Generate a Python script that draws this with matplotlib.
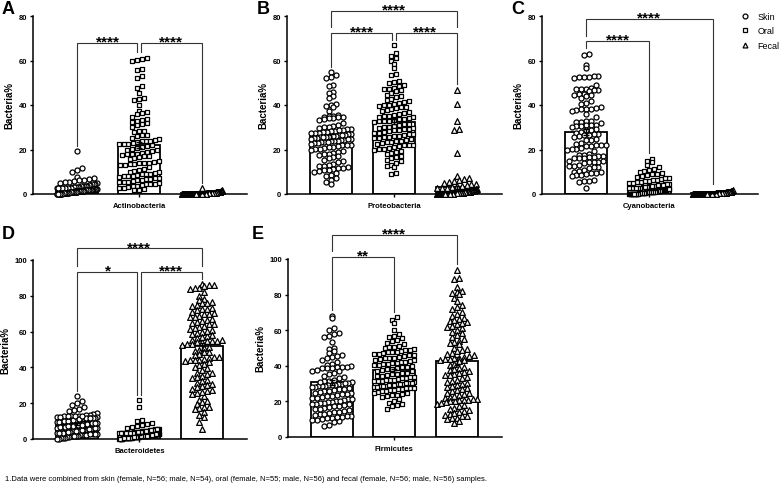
import numpy as np
import matplotlib
matplotlib.use("Agg")
from matplotlib import pyplot as plt
from matplotlib.lines import Line2D

plt.rcParams["font.family"] = ["Liberation Sans", "DejaVu Sans"]

groups = ["Skin", "Oral", "Fecal"]
phyla = ["Actinobacteria", "Proteobacteria", "Cyanobacteria", "Bacteroidetes", "Firmicutes"]
panel_letters = ["A", "B", "C", "D", "E"]
y_max = [80, 80, 80, 100, 100]

# bar heights (group means): Skin, Oral, Fecal
actino_means = [2.6, 22.0, 0.4]
proteo_means = [25.9, 32.5, 3.0]
cyano_means = [27.8, 2.1, 0.5]
bactero_means = [8.3, 2.4, 51.7]
firmi_means = [30.8, 37.4, 42.6]

# individual samples (%), read approximately off the dot clouds
actino_skin = [19.3, 11.9, 10.9, 9.9, 7.6, 7.1, 6.8, 6.5, 6.2, 5.9,
               5.6, 5.3, 5.1, 4.9, 4.7, 4.5, 4.3, 4.1, 3.9, 3.8,
               3.7, 3.6, 3.5, 3.4, 3.3, 3.2, 3.1, 3.0, 3.0, 2.9,
               2.9, 2.8, 2.8, 2.7, 2.7, 2.6, 2.6, 2.5, 2.5, 2.4,
               2.4, 2.3, 2.3, 2.2, 2.2, 2.1, 2.1, 2.0, 2.0, 1.9,
               1.9, 1.9, 1.8, 1.8, 1.8, 1.7, 1.7, 1.7, 1.6, 1.6,
               1.6, 1.5, 1.5, 1.5, 1.4, 1.4, 1.4, 1.3, 1.3, 1.3,
               1.2, 1.2, 1.2, 1.1, 1.1, 1.1, 1.0, 1.0, 1.0, 0.9,
               0.9, 0.9, 0.8, 0.8, 0.8, 0.7, 0.7, 0.7, 0.6, 0.6,
               0.6, 0.5, 0.5, 0.5, 0.4, 0.4, 0.4, 0.3, 0.3, 0.3,
               0.2, 0.2, 0.2, 0.1, 0.1, 0.1, 0.1, 0.0, 0.0, 0.0]
actino_oral = [61.2, 60.6, 60.1, 59.9, 56.2, 55.8, 53.0, 52.2, 48.6, 47.6,
               45.2, 43.1, 42.7, 42.3, 40.1, 37.3, 36.9, 36.5, 36.1, 34.7,
               33.5, 33.1, 32.7, 32.3, 31.9, 31.5, 31.1, 30.2, 28.5, 28.1,
               27.7, 26.7, 26.3, 25.9, 25.1, 24.5, 24.2, 23.9, 23.6, 23.2,
               22.9, 22.6, 22.3, 22.0, 21.6, 21.2, 20.8, 20.4, 20.0, 19.6,
               19.2, 18.8, 18.5, 18.2, 17.9, 17.6, 17.3, 17.0, 16.6, 16.2,
               15.8, 14.7, 14.3, 14.0, 13.8, 13.6, 13.4, 13.2, 12.9, 12.1,
               11.4, 10.8, 10.4, 10.0, 9.7, 9.4, 9.1, 8.8, 8.5, 8.2,
               7.9, 7.6, 7.3, 7.0, 6.7, 6.4, 6.1, 5.8, 5.5, 5.2,
               4.9, 4.6, 4.3, 4.0, 3.7, 3.4, 3.1, 2.8, 2.5, 2.2,
               1.9, 1.6, 9.0, 8.0, 6.9, 5.6, 4.4, 13.9, 17.8, 22.5, 24.0]
actino_fecal = [2.6, 1.7, 1.5, 1.3, 1.2, 1.1, 1.0, 1.0, 0.9, 0.9,
                0.9, 0.8, 0.8, 0.8, 0.7, 0.7, 0.7, 0.7, 0.6, 0.6,
                0.6, 0.6, 0.6, 0.5, 0.5, 0.5, 0.5, 0.5, 0.5, 0.4,
                0.4, 0.4, 0.4, 0.4, 0.4, 0.4, 0.3, 0.3, 0.3, 0.3,
                0.3, 0.3, 0.3, 0.3, 0.3, 0.2, 0.2, 0.2, 0.2, 0.2,
                0.2, 0.2, 0.2, 0.2, 0.2, 0.2, 0.1, 0.1, 0.1, 0.1,
                0.1, 0.1, 0.1, 0.1, 0.1, 0.1, 0.1, 0.1, 0.1, 0.1,
                0.1, 0.1, 0.0, 0.0, 0.0, 0.0, 0.0, 0.0, 0.0, 0.0,
                0.0, 0.0, 0.0, 0.0, 0.0, 0.0, 0.0, 0.0, 0.0, 0.0,
                0.0, 0.0, 0.0, 0.0, 0.0, 0.0, 0.0, 0.0, 0.0, 0.0,
                0.0, 0.0, 0.0, 0.0, 0.0, 0.0, 0.0, 0.0, 0.0, 0.0,
                0.0, 0.0]

proteo_skin = [54.8, 53.6, 52.7, 52.1, 49.0, 48.4, 46.0, 45.4, 44.0, 43.2,
               40.6, 40.1, 39.6, 39.1, 37.2, 35.4, 35.2, 35.0, 34.8, 34.6,
               34.4, 34.2, 34.0, 33.6, 33.2, 32.0, 31.2, 30.6, 30.3, 30.0,
               29.7, 29.4, 29.1, 28.8, 28.5, 28.2, 28.0, 27.8, 27.6, 27.4,
               27.2, 27.0, 26.8, 26.6, 26.4, 26.2, 26.0, 25.8, 25.6, 25.4,
               25.2, 25.0, 24.8, 24.6, 24.4, 24.2, 24.0, 23.8, 23.6, 23.4,
               23.2, 23.0, 22.8, 22.5, 22.2, 21.9, 21.6, 21.3, 21.0, 20.7,
               20.4, 20.1, 19.8, 19.5, 19.0, 18.6, 18.2, 17.8, 17.4, 17.0,
               16.5, 16.0, 15.4, 14.8, 14.2, 13.6, 13.2, 12.8, 12.4, 12.1,
               11.8, 11.5, 11.2, 10.9, 10.6, 10.3, 10.0, 9.4, 8.6, 8.0,
               7.2, 6.4, 5.5, 4.4, 26.5, 25.5, 24.5, 23.5, 28.6, 22.0]
proteo_oral = [66.8, 63.2, 62.0, 61.2, 60.0, 58.6, 56.6, 54.0, 53.4, 51.0,
               50.2, 49.8, 49.2, 48.4, 47.8, 47.4, 47.0, 46.6, 46.2, 45.2,
               44.2, 43.4, 42.2, 41.6, 41.2, 40.8, 40.4, 40.0, 39.6, 39.2,
               38.8, 38.2, 37.6, 37.0, 36.4, 35.8, 35.4, 35.0, 34.6, 34.2,
               33.8, 33.4, 33.0, 32.6, 32.2, 31.6, 31.0, 30.6, 30.2, 29.8,
               29.4, 29.0, 28.6, 28.2, 27.8, 27.4, 27.0, 26.6, 26.2, 25.8,
               25.4, 25.0, 24.6, 24.2, 23.8, 23.4, 23.0, 22.6, 22.2, 21.8,
               21.4, 21.0, 20.6, 20.2, 19.8, 19.4, 19.0, 18.4, 17.8, 17.2,
               16.6, 16.0, 15.4, 14.8, 14.0, 13.2, 12.4, 12.0, 9.6, 9.2,
               35.2, 34.8, 32.8, 31.4, 30.0, 28.8, 27.2, 26.0, 25.2, 24.0,
               23.2, 22.0, 40.2, 39.0, 37.2, 42.6, 44.6, 26.8, 29.6, 33.6, 20.4]
proteo_fecal = [46.8, 40.6, 32.6, 29.4, 28.8, 18.4, 8.2, 7.4, 6.8, 6.2,
                5.8, 5.4, 5.0, 4.6, 4.3, 4.0, 3.7, 3.4, 3.1, 2.9,
                2.7, 2.5, 2.3, 2.1, 2.0, 1.9, 1.8, 1.7, 1.6, 1.5,
                1.5, 1.4, 1.4, 1.3, 1.3, 1.2, 1.2, 1.1, 1.1, 1.0,
                1.0, 1.0, 0.9, 0.9, 0.9, 0.8, 0.8, 0.8, 0.7, 0.7,
                0.7, 0.7, 0.6, 0.6, 0.6, 0.6, 0.5, 0.5, 0.5, 0.5,
                0.5, 0.4, 0.4, 0.4, 0.4, 0.4, 0.4, 0.3, 0.3, 0.3,
                0.3, 0.3, 0.3, 0.3, 0.2, 0.2, 0.2, 0.2, 0.2, 0.2,
                0.2, 0.2, 0.1, 0.1, 0.1, 0.1, 0.1, 0.1, 0.1, 0.1,
                0.1, 0.1, 0.0, 0.0, 0.0, 0.0, 0.0, 0.0, 0.0, 0.0,
                0.0, 0.0, 0.0, 0.0, 0.0, 0.0, 0.0, 0.0, 0.0, 0.0,
                0.0, 0.0]

cyano_skin = [63.0, 62.6, 58.0, 56.8, 53.2, 53.0, 52.8, 52.6, 52.4, 52.0,
              49.0, 47.6, 47.4, 47.2, 47.0, 46.8, 46.6, 46.4, 45.0, 44.8,
              44.6, 44.4, 44.0, 43.0, 42.0, 41.0, 40.4, 39.0, 38.6, 38.4,
              38.2, 38.0, 37.8, 37.4, 36.0, 34.6, 33.0, 32.6, 32.4, 32.2,
              32.0, 31.2, 31.0, 30.8, 30.6, 30.4, 30.0, 29.0, 28.8, 28.6,
              28.0, 27.2, 27.0, 26.8, 26.6, 26.4, 26.2, 25.8, 24.6, 24.4,
              24.2, 23.0, 22.4, 22.2, 22.0, 21.8, 21.6, 21.4, 20.6, 20.4,
              20.2, 20.0, 19.4, 18.0, 17.6, 17.4, 17.2, 17.0, 16.8, 16.6,
              16.4, 16.2, 16.0, 15.0, 14.8, 14.6, 14.4, 14.2, 14.0, 13.0,
              12.6, 12.4, 12.2, 12.0, 11.8, 11.0, 10.2, 10.0, 9.8, 9.6,
              9.4, 9.0, 8.6, 8.4, 8.2, 6.2, 6.0, 5.8, 5.6, 2.6]
cyano_oral = [15.8, 15.0, 14.2, 13.0, 12.0, 11.4, 10.8, 10.4, 10.0, 9.6,
              9.2, 8.8, 8.4, 8.0, 7.6, 7.2, 6.8, 6.4, 6.0, 5.6,
              5.3, 5.0, 4.7, 4.4, 4.1, 3.8, 3.6, 3.4, 3.2, 3.0,
              2.9, 2.8, 2.7, 2.6, 2.5, 2.4, 2.3, 2.2, 2.1, 2.0,
              1.9, 1.9, 1.8, 1.8, 1.7, 1.7, 1.6, 1.6, 1.5, 1.5,
              1.4, 1.4, 1.3, 1.3, 1.3, 1.2, 1.2, 1.2, 1.1, 1.1,
              1.1, 1.0, 1.0, 1.0, 0.9, 0.9, 0.9, 0.8, 0.8, 0.8,
              0.7, 0.7, 0.7, 0.6, 0.6, 0.6, 0.5, 0.5, 0.5, 0.4,
              0.4, 0.4, 0.3, 0.3, 0.3, 0.2, 0.2, 0.2, 0.1, 0.1,
              0.1, 0.0, 0.0, 0.0, 0.0, 0.0, 0.0, 0.0, 0.0, 0.0,
              7.0, 6.2, 5.8, 5.0, 4.6, 4.2, 3.9, 3.5, 3.1, 2.7, 2.4]
cyano_fecal = [1.8, 1.5, 1.3, 1.2, 1.1, 1.0, 1.0, 0.9, 0.9, 0.9,
               0.9, 0.8, 0.8, 0.8, 0.7, 0.7, 0.7, 0.7, 0.6, 0.6,
               0.6, 0.6, 0.6, 0.5, 0.5, 0.5, 0.5, 0.5, 0.5, 0.5,
               0.4, 0.4, 0.4, 0.4, 0.4, 0.4, 0.4, 0.4, 0.3, 0.3,
               0.3, 0.3, 0.3, 0.3, 0.3, 0.3, 0.3, 0.2, 0.2, 0.2,
               0.2, 0.2, 0.2, 0.2, 0.2, 0.2, 0.2, 0.1, 0.1, 0.1,
               0.1, 0.1, 0.1, 0.1, 0.1, 0.1, 0.1, 0.1, 0.1, 0.1,
               0.1, 0.0, 0.0, 0.0, 0.0, 0.0, 0.0, 0.0, 0.0, 0.0,
               0.0, 0.0, 0.0, 0.0, 0.0, 0.0, 0.0, 0.0, 0.0, 0.0,
               0.0, 0.0, 0.0, 0.0, 0.0, 0.0, 0.0, 0.0, 0.0, 0.0,
               0.0, 0.0, 0.0, 0.0, 0.0, 0.0, 0.0, 0.0, 0.0, 0.0,
               0.0, 0.0]

bactero_skin = [23.8, 21.0, 20.0, 19.0, 17.6, 16.8, 16.0, 15.4, 14.6, 14.0,
                13.6, 13.3, 13.0, 12.8, 12.6, 12.4, 12.2, 12.0, 11.8, 11.6,
                11.4, 11.2, 11.0, 10.8, 10.6, 10.4, 10.2, 10.0, 9.8, 9.6,
                9.4, 9.2, 9.0, 8.8, 8.6, 8.4, 8.2, 8.0, 7.8, 7.6,
                7.4, 7.2, 7.0, 6.8, 6.6, 6.4, 6.2, 6.0, 5.8, 5.6,
                5.4, 5.2, 5.0, 4.8, 4.6, 4.4, 4.2, 4.0, 3.8, 3.6,
                3.4, 3.2, 3.0, 2.8, 2.6, 2.4, 2.2, 2.0, 1.8, 1.6,
                1.4, 1.2, 1.0, 0.8, 0.6, 0.4, 0.2, 0.0, 12.5, 11.5,
                10.5, 9.5, 8.5, 7.5, 6.5, 5.5, 4.5, 3.5, 2.5, 1.5,
                12.9, 11.9, 10.9, 9.9, 8.9, 7.9, 6.9, 5.9, 4.9, 3.9,
                10.1, 9.1, 8.1, 7.1, 3.3, 2.9, 2.7, 13.1, 12.7, 11.7]
bactero_oral = [21.6, 17.8, 10.6, 10.0, 9.2, 8.4, 7.6, 7.0, 6.6, 6.2,
                5.8, 5.6, 5.4, 5.2, 5.0, 4.8, 4.6, 4.4, 4.2, 4.0,
                3.9, 3.8, 3.7, 3.6, 3.5, 3.4, 3.3, 3.2, 3.1, 3.0,
                2.9, 2.8, 2.7, 2.6, 2.5, 2.4, 2.3, 2.2, 2.1, 2.0,
                1.9, 1.9, 1.8, 1.8, 1.7, 1.7, 1.6, 1.6, 1.5, 1.5,
                1.4, 1.4, 1.3, 1.3, 1.2, 1.2, 1.1, 1.1, 1.0, 1.0,
                0.9, 0.9, 0.8, 0.8, 0.7, 0.7, 0.6, 0.6, 0.5, 0.5,
                0.4, 0.4, 0.3, 0.3, 0.2, 0.2, 0.1, 0.1, 0.0, 0.0,
                4.7, 4.3, 3.6, 3.2, 2.8, 2.4, 2.0, 1.6, 1.2, 0.8,
                4.9, 4.1, 3.5, 3.1, 2.7, 2.3, 1.9, 1.5, 1.1, 0.7,
                5.5, 4.5, 3.9, 3.3, 2.6, 2.2, 1.8, 1.4, 1.0, 0.6, 0.3]
bactero_fecal = [86.4, 86.0, 85.8, 85.4, 84.6, 84.2, 83.8, 82.0, 80.0, 78.2,
                 77.4, 76.6, 75.8, 75.0, 74.2, 73.4, 72.6, 72.0, 71.2, 70.4,
                 69.6, 68.8, 68.0, 67.2, 66.4, 65.6, 64.8, 64.0, 63.2, 62.4,
                 61.6, 60.8, 60.0, 59.2, 58.4, 57.6, 56.4, 55.4, 55.2, 55.0,
                 54.8, 54.6, 54.4, 54.2, 53.2, 52.4, 51.6, 50.8, 50.0, 49.2,
                 48.4, 47.6, 46.8, 46.0, 45.2, 44.6, 44.4, 44.2, 44.0, 43.8,
                 42.8, 42.0, 41.2, 40.4, 39.6, 38.8, 37.0, 36.2, 35.4, 34.6,
                 33.8, 33.0, 32.2, 31.4, 30.6, 29.8, 29.0, 28.2, 27.4, 26.6,
                 25.8, 25.0, 24.2, 22.0, 21.2, 20.4, 19.6, 18.0, 17.6, 17.2,
                 16.8, 15.0, 13.6, 12.2, 9.4, 5.6, 70.0, 66.0, 62.0, 58.0,
                 76.0, 72.8, 68.4, 64.4, 60.4, 56.8, 52.8, 48.8, 45.6, 36.6,
                 30.2, 26.2]

firmi_skin = [68.0, 66.8, 61.0, 60.2, 58.6, 57.6, 56.6, 56.0, 53.2, 50.2,
              49.6, 48.2, 47.2, 46.2, 44.8, 44.2, 42.2, 41.2, 40.2, 39.8,
              39.6, 39.4, 39.2, 39.0, 38.8, 38.6, 37.2, 36.2, 35.2, 33.2,
              32.2, 31.6, 31.2, 30.8, 30.4, 30.0, 29.6, 29.4, 29.2, 29.0,
              28.8, 28.6, 28.4, 28.2, 27.6, 27.0, 26.4, 25.8, 25.4, 25.0,
              24.6, 24.2, 23.6, 23.0, 22.4, 21.8, 21.2, 20.6, 20.0, 19.6,
              19.4, 19.2, 19.0, 18.8, 18.6, 18.4, 18.2, 17.6, 17.0, 16.4,
              15.8, 15.2, 14.6, 14.0, 13.4, 12.8, 12.4, 12.0, 11.6, 11.2,
              10.8, 10.4, 10.0, 9.6, 9.0, 8.4, 6.6, 6.2, 45.6, 43.4,
              37.8, 36.8, 34.4, 33.8, 31.0, 30.2, 28.0, 27.2, 26.0, 24.0,
              22.8, 21.4, 20.2, 17.2, 16.0, 14.2, 13.0, 11.0, 9.4, 22.0]
firmi_oral = [67.2, 66.0, 64.2, 60.2, 58.0, 57.0, 56.2, 55.4, 54.6, 53.8,
              53.0, 52.2, 51.4, 50.6, 50.0, 49.4, 48.8, 48.2, 47.6, 47.0,
              46.4, 45.8, 45.2, 44.6, 44.0, 43.4, 42.8, 42.2, 41.6, 41.0,
              40.4, 39.8, 39.2, 38.6, 38.0, 37.4, 36.8, 36.2, 35.6, 35.0,
              34.4, 33.8, 33.2, 32.6, 32.0, 31.6, 31.2, 30.8, 30.4, 30.0,
              29.6, 29.2, 28.8, 28.4, 28.0, 27.6, 27.2, 26.8, 26.4, 26.0,
              25.4, 24.8, 24.2, 23.6, 23.0, 22.4, 21.4, 20.4, 19.2, 18.4,
              17.8, 17.2, 16.0, 50.4, 49.0, 47.8, 46.8, 45.6, 44.4, 43.0,
              41.8, 40.8, 39.6, 38.4, 37.2, 36.0, 35.2, 34.0, 33.0, 32.2,
              31.4, 30.6, 29.8, 29.0, 28.2, 27.4, 26.6, 25.6, 24.6, 23.4,
              48.0, 46.0, 44.2, 42.4, 40.2, 33.6, 31.8, 30.2, 29.4, 28.6, 27.8]
firmi_fecal = [94.0, 89.2, 88.8, 84.0, 82.2, 81.2, 80.2, 78.0, 76.2, 73.0,
               72.0, 70.0, 69.0, 67.0, 66.2, 65.2, 64.4, 63.4, 62.4, 61.2,
               60.2, 58.2, 56.0, 55.0, 54.2, 53.4, 52.6, 50.2, 49.4, 48.2,
               47.2, 46.2, 45.2, 44.6, 44.2, 43.8, 43.4, 42.6, 40.2, 39.4,
               38.6, 37.8, 37.0, 36.2, 35.4, 34.6, 33.8, 33.0, 32.2, 31.4,
               30.6, 29.8, 29.0, 28.2, 27.4, 26.6, 25.8, 25.0, 24.2, 23.4,
               22.6, 21.8, 21.4, 21.2, 21.0, 20.8, 20.6, 20.4, 20.2, 19.6,
               18.8, 18.0, 17.2, 16.4, 15.6, 14.8, 14.0, 13.2, 12.4, 11.6,
               10.8, 10.4, 10.0, 9.0, 8.0, 80.8, 74.0, 68.0, 64.0, 59.0,
               57.2, 52.0, 48.8, 46.8, 44.0, 41.0, 38.2, 35.0, 31.0, 27.0,
               23.0, 19.0, 15.0, 12.0, 66.0, 62.0, 45.6, 43.0, 36.6, 28.6,
               24.6, 13.6]

# significance brackets: (group i, group j, stars, bracket height)
actino_sig = [(0, 1, "****", 68.0), (1, 2, "****", 68.0)]
proteo_sig = [(0, 1, "****", 72.5), (1, 2, "****", 72.5), (0, 2, "****", 82.2)]
cyano_sig = [(0, 1, "****", 68.7), (0, 2, "****", 78.8)]
bactero_sig = [(0, 1, "*", 93.3), (1, 2, "****", 93.3), (0, 2, "****", 106.5)]
firmi_sig = [(0, 1, "**", 101.3), (0, 2, "****", 113.6)]

footnote = ("1.Data were combined from skin (female, N=56; male, N=54), oral (female, N=55; "
            "male, N=56) and fecal (female, N=56; male, N=56) samples.")

panel_means = [actino_means, proteo_means, cyano_means, bactero_means, firmi_means]
panel_points = [[actino_skin, actino_oral, actino_fecal],
                [proteo_skin, proteo_oral, proteo_fecal],
                [cyano_skin, cyano_oral, cyano_fecal],
                [bactero_skin, bactero_oral, bactero_fecal],
                [firmi_skin, firmi_oral, firmi_fecal]]
panel_sig = [actino_sig, proteo_sig, cyano_sig, bactero_sig, firmi_sig]

W, H = 781, 489
# axes boxes in pixels: left, bottom(y of zero line), right, top(y of max tick)
boxes = [(33, 195, 247, 17), (287, 195, 502, 17), (542, 195, 758, 17),
         (33, 440, 247, 261), (288, 438, 502, 260)]
letter_pos = [(2, 1), (257, 1), (511, 1), (2, 226), (252, 226)]
markers = [dict(marker="o", s=13), dict(marker="s", s=11), dict(marker="^", s=17)]
XLIM = (-0.7, 2.72)
BAR_W = 0.67


def swarm_offsets(values, ymax, ax_h, ax_w, row_px=5.5, step_px=4.9, span_px=40.0):
    v = np.asarray(values, float)
    rows = np.floor(v / ymax * ax_h / row_px).astype(int)
    offs = np.zeros(len(v))
    for r in np.unique(rows):
        idx = np.where(rows == r)[0]
        idx = idx[np.argsort(v[idx], kind="stable")]
        n = len(idx)
        if n < 2:
            continue
        step = min(step_px, span_px / (n - 1))
        offs[idx] = (np.arange(n) - (n - 1) / 2) * step
    return offs * (XLIM[1] - XLIM[0]) / ax_w


def draw_brackets(ax, sig, pts, ymax):
    gap = 0.031 * ymax
    tops = [max(p) for p in pts]
    for i, j, label, y in sig:
        x0, x1 = i, j
        for i2, j2, _, y2 in sig:
            if y2 == y and j2 == i:
                x0 = i + 0.03
            if y2 == y and i2 == j:
                x1 = j - 0.03
        legs = []
        for g in (i, j):
            low = tops[g] + gap
            for i2, j2, _, y2 in sig:
                if y2 < y and g in (i2, j2):
                    low = max(low, y2 + gap)
            legs.append(low)
        ax.plot([x0, x0, x1, x1], [legs[0], y, y, legs[1]], color="#333333",
                lw=0.8, clip_on=False, zorder=5, solid_joinstyle="miter")
        ax.annotate(label, xy=((i + j) / 2, y), xytext=(0, -2.0),
                    textcoords="offset points", ha="center", va="baseline",
                    fontsize=11, fontweight="bold", annotation_clip=False)


def create_plot():
    fig = plt.figure(figsize=(W / 100, H / 100), dpi=100)

    for k in range(5):
        l, b, r, t = boxes[k]
        ax = fig.add_axes([l / W, 1 - b / H, (r - l) / W, (b - t) / H])
        ymax = y_max[k]
        pts = panel_points[k]
        x = np.arange(3)

        sem = [np.std(p, ddof=1) / np.sqrt(len(p)) for p in pts]
        ax.bar(x, panel_means[k], width=BAR_W, color="white", edgecolor="black",
               linewidth=1.3, zorder=2)
        for g in range(3):
            dx = swarm_offsets(pts[g], ymax, b - t, r - l)
            ax.scatter(g + dx, pts[g], facecolor="white", edgecolor="black",
                       linewidth=0.9, zorder=3, clip_on=False, **markers[g])
        ax.errorbar(x, panel_means[k], yerr=sem, fmt="none", ecolor="black",
                    elinewidth=1.0, capsize=2.5, capthick=1.0, zorder=4)

        ax.set_xlim(*XLIM)
        ax.set_ylim(0, ymax)
        ax.set_yticks(np.arange(0, ymax + 1, 20))
        ax.set_xticks([1])
        ax.set_xticklabels([phyla[k]], fontsize=5.5, fontweight="bold")
        ax.tick_params(axis="both", length=2.5, width=1.0, labelsize=5.5, pad=1.5)
        ax.tick_params(axis="x", pad=3.5)
        for lab in ax.get_yticklabels():
            lab.set_fontweight("bold")
        ax.set_ylabel("Bacteria%", fontsize=7, fontweight="bold", labelpad=3)
        for side in ("top", "right"):
            ax.spines[side].set_visible(False)
        for side in ("left", "bottom"):
            ax.spines[side].set_linewidth(1.1)

        draw_brackets(ax, panel_sig[k], pts, ymax)

        lx, ly = letter_pos[k]
        fig.text(lx / W, 1 - ly / H, panel_letters[k], fontsize=13,
                 fontweight="bold", va="top", ha="left")

    handles = [Line2D([], [], ls="", marker=m["marker"], markersize=3.5,
                      markerfacecolor="white", markeredgecolor="black",
                      markeredgewidth=0.9) for m in markers]
    fig.legend(handles, groups, loc="upper left", bbox_to_anchor=(741 / W, 1 - 13 / H),
               frameon=False, fontsize=6.5, handlelength=0.8, handletextpad=1.0,
               labelspacing=0.6, borderpad=0, borderaxespad=0)

    fig.text(5 / W, 1 - 480 / H, footnote, fontsize=5.5, va="center", ha="left")

    fig.savefig("out.png", dpi=100)
    plt.close(fig)


if __name__ == "__main__":
    create_plot()
